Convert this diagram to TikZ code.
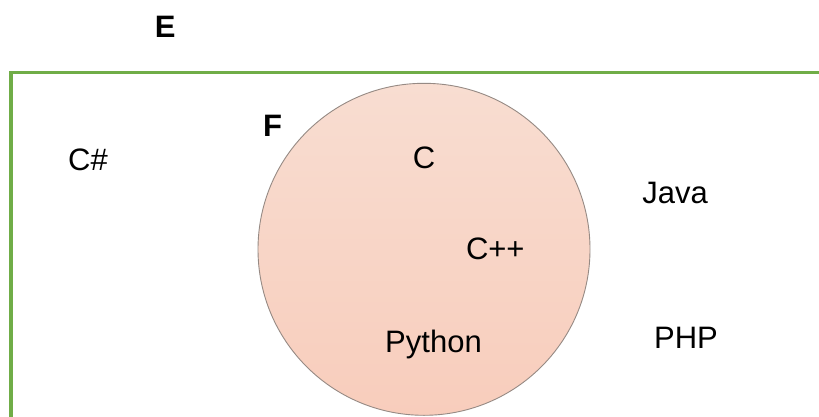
\documentclass[tikz,border=0pt]{standalone}
\usepackage{fontspec}
\setmainfont{Liberation Sans}
\definecolor{boxgreen}{RGB}{112,173,71}
\definecolor{circtop}{RGB}{248,221,209}
\definecolor{circbot}{RGB}{248,205,188}
\definecolor{circline}{RGB}{150,138,132}
\begin{document}
\begin{tikzpicture}[x=1pt,y=-1pt,
  lbl/.style={inner sep=0pt,anchor=base,font=\fontsize{31}{37}\selectfont},
  blbl/.style={lbl,font=\fontsize{31}{37}\selectfont\bfseries}]
\useasboundingbox (0,0) rectangle (819,417);
\clip (0,0) rectangle (819,417);
\fill[white] (0,0) rectangle (819,417);
\draw[boxgreen,line width=3.2pt] (840,72.3) -- (11,72.3) -- (11,440);
\shade[top color=circtop,bottom color=circbot,draw=circline,line width=0.9pt] (424,249.3) circle[radius=166];
\node[blbl] (E) at (165.3,38) {E};
\node[blbl] (F) at (272.5,137) {F};
\node[lbl] (csharp) at (88,170) {C\#};
\node[lbl] (c) at (424,168) {C};
\node[lbl] (cpp) at (495.3,259.3) {C++};
\node[lbl] (java) at (675,203.3) {Java};
\node[lbl] (python) at (433.5,352.7) {Python};
\node[lbl] (php) at (686,348.3) {PHP};
\end{tikzpicture}
\end{document}
